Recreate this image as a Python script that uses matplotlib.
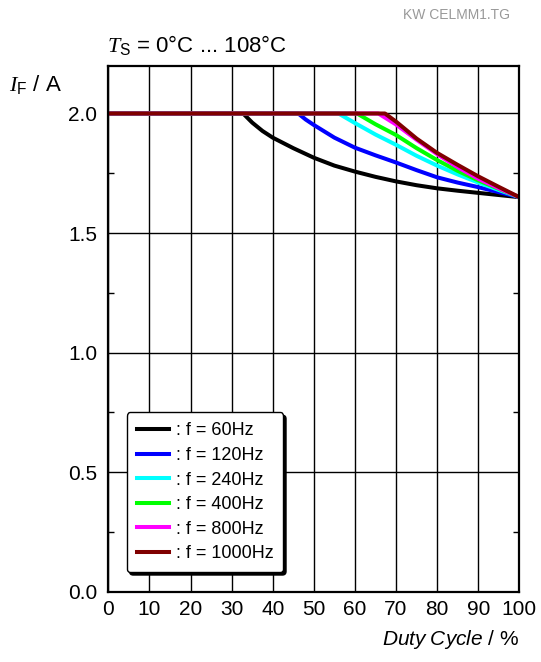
import matplotlib
matplotlib.use("Agg")
import matplotlib.pyplot as plt
from matplotlib.ticker import MultipleLocator, FormatStrFormatter

plt.rcParams['font.family'] = ['Liberation Sans', 'DejaVu Sans']
plt.rcParams['mathtext.fontset'] = 'custom'
plt.rcParams['mathtext.rm'] = 'Liberation Sans'
plt.rcParams['mathtext.it'] = 'Liberation Serif:italic'
plt.rcParams['mathtext.sf'] = 'Liberation Sans:italic'

# duty cycle (%) / forward current (A)
d_60 = [0, 32.8, 35, 37.5, 40, 45, 50, 55, 60, 65, 70, 75, 80, 85, 90, 95, 100]
i_60 = [2.0, 2.0, 1.962, 1.927, 1.899, 1.855, 1.815, 1.782, 1.757, 1.735, 1.716, 1.7, 1.687, 1.677, 1.668, 1.659, 1.65]
d_120 = [0, 46.2, 48, 50, 55, 60, 65, 70, 75, 80, 85, 90, 95, 100]
i_120 = [2.0, 2.0, 1.975, 1.952, 1.899, 1.857, 1.825, 1.795, 1.763, 1.733, 1.711, 1.692, 1.671, 1.65]
d_240 = [0, 56.0, 58, 60, 65, 70, 75, 80, 85, 90, 95, 100]
i_240 = [2.0, 2.0, 1.98, 1.96, 1.912, 1.869, 1.823, 1.782, 1.745, 1.711, 1.68, 1.65]
d_400 = [0, 60.5, 65, 70, 75, 80, 85, 90, 95, 100]
i_400 = [2.0, 2.0, 1.955, 1.91, 1.855, 1.805, 1.76, 1.72, 1.685, 1.65]
d_800 = [0, 65.7, 70, 75, 80, 85, 90, 95, 100]
i_800 = [2.0, 2.0, 1.954, 1.89, 1.83, 1.775, 1.727, 1.687, 1.65]
d_1000 = [0, 67.3, 70, 75, 80, 85, 90, 95, 100]
i_1000 = [2.0, 2.0, 1.966, 1.895, 1.835, 1.785, 1.737, 1.693, 1.65]

labels = [': f = 60Hz', ': f = 120Hz', ': f = 240Hz', ': f = 400Hz', ': f = 800Hz', ': f = 1000Hz']
colors = ['black', '#0000ff', '#00ffff', '#00ff00', '#ff00ff', '#800000']

fig = plt.figure(figsize=(5.41, 6.62), dpi=100)
ax = fig.add_axes([0.2002, 0.1062, 0.7598, 0.7946])

series = [(d_60, i_60), (d_120, i_120), (d_240, i_240), (d_400, i_400), (d_800, i_800), (d_1000, i_1000)]
for (d, i), c, lab in zip(series, colors, labels):
    ax.plot(d, i, color=c, lw=2.9, label=lab, solid_joinstyle='round')

ax.set_xlim(0, 100)
ax.set_ylim(0, 2.2)
ax.xaxis.set_major_locator(MultipleLocator(10))
ax.yaxis.set_major_locator(MultipleLocator(0.5))
ax.yaxis.set_minor_locator(MultipleLocator(0.25))
ax.yaxis.set_major_formatter(FormatStrFormatter('%.1f'))
ax.grid(True, which='major', color='black', lw=1.0)
ax.set_axisbelow(True)
ax.tick_params(which='major', length=0, labelsize=15)
ax.tick_params(axis='y', which='major', pad=8)
ax.tick_params(axis='x', which='major', pad=6)
ax.tick_params(axis='y', which='minor', direction='in', length=4, width=1, left=True, right=True)
ax.tick_params(axis='x', which='minor', length=0)
for s in ax.spines.values():
    s.set_linewidth(1.6)

leg = ax.legend(loc='lower left', bbox_to_anchor=(0.045, 0.037), borderaxespad=0,
                fontsize=13, handlelength=1.8, handletextpad=0.35, labelspacing=0.42,
                frameon=True, fancybox=True, shadow={'color': 'black', 'alpha': 1},
                borderpad=0.55, framealpha=1)
leg.get_frame().set_edgecolor('black')
leg.get_frame().set_linewidth(1.0)

fig.text(0.198, 0.932, r'$\mathit{T}_{\mathrm{S}}$ = 0°C ... 108°C', fontsize=16, ha='left', va='center')
fig.text(0.016, 0.872, r'$\mathit{I}_{\mathrm{F}}$ / A', fontsize=16, ha='left', va='center')
fig.text(0.96, 0.034, r'$\mathsf{Duty\ Cycle}$ / %', fontsize=15, ha='right', va='center')
fig.text(0.943, 0.977, 'KW CELMM1.TG', fontsize=10, color='#999999', ha='right', va='center')

fig.savefig('out.png', dpi=100)
